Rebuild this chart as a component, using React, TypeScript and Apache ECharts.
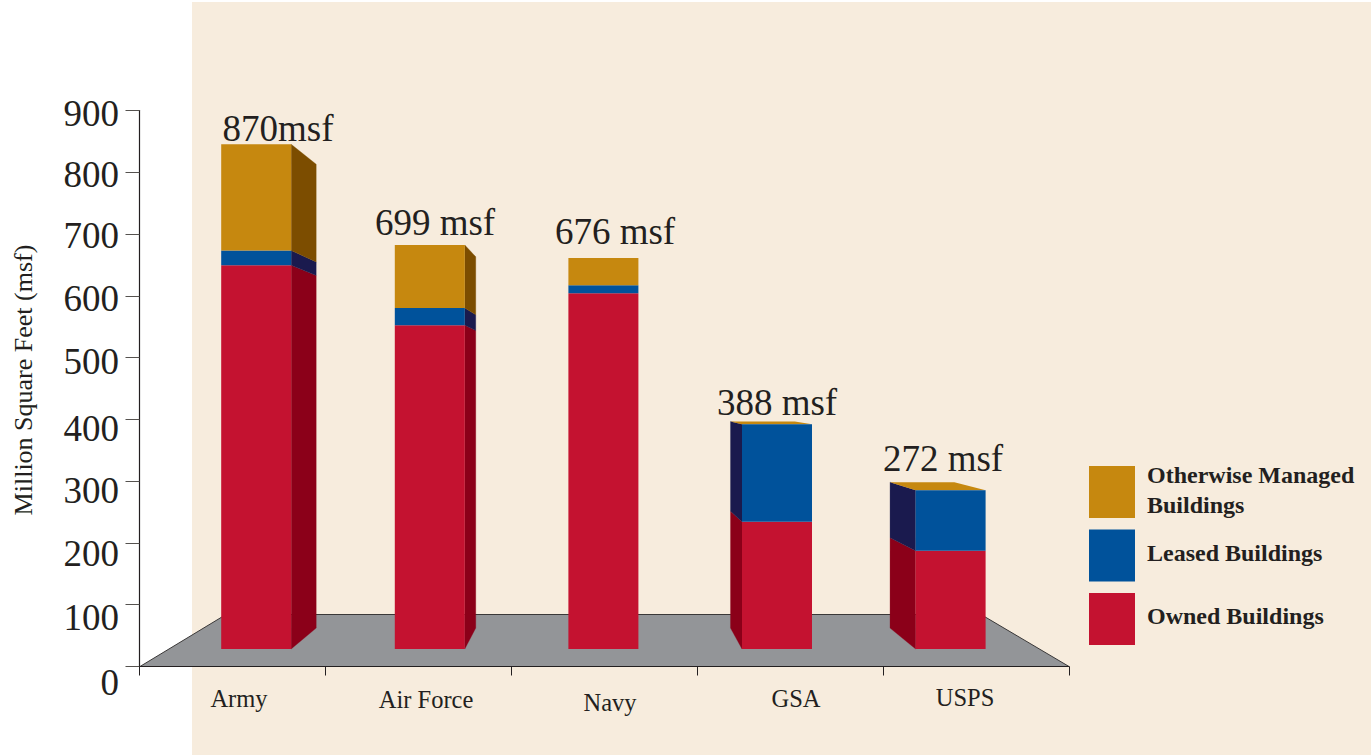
import React, { useEffect, useRef } from "react";
import * as echarts from "echarts";

const CATEGORIES = ["Army", "Air Force", "Navy", "GSA", "USPS"];
const OWNED = [621, 524, 576, 206, 159];
const LEASED = [24, 28, 13, 158, 98];
const OTHER = [172, 102, 44, 0, 0];
const TOTAL_LABELS = ["870msf", "699 msf", "676 msf", "388 msf", "272 msf"];
const Y_TICK_LABELS = ["900", "800", "700", "600", "500", "400", "300", "200", "100", "0"];
const Y_AXIS_NAME = "Million Square Feet (msf)";
const NAME_OTHER = "Otherwise Managed\nBuildings";
const NAME_LEASED = "Leased Buildings";
const NAME_OWNED = "Owned Buildings";

// layout of the free-standing texts (pixels)
const Y_LABEL_POS = [113, 174, 235, 298, 361, 428, 490, 553, 617, 682];
const X_LABEL_POS = [[239, 698], [426, 699], [610, 702], [796, 698], [965, 697]];
const TOTAL_POS = [[278, 128], [435, 222], [615, 231], [777, 402], [943, 458]];

const GOLD = "#c6880f";
const BLUE = "#00529b";
const RED = "#c41230";
const GOLD_D = "#7c4d00";
const BLUE_D = "#1a1a4e";
const RED_D = "#8b0019";
const INK = "#231f20";
const SERIF = "'Liberation Serif', serif";
// perspective of the bars' hidden faces
const VP_X = 600;
const VP_Y = 391;
const DEPTH = 0.919;
const HALF_BAR = 35;

const back = (p: number[]) => [
  VP_X + (p[0] - VP_X) * DEPTH,
  VP_Y + (p[1] - VP_Y) * DEPTH,
];

function renderSides(params: any, api: any) {
  const i = api.value(0);
  const cx = api.coord([i, 0])[0];
  const y = (v: number) => api.coord([i, v])[1];
  const l = cx - HALF_BAR;
  const r = cx + HALF_BAR;
  const segs = [
    [0, OWNED[i], RED_D],
    [OWNED[i], OWNED[i] + LEASED[i], BLUE_D],
    [OWNED[i] + LEASED[i], OWNED[i] + LEASED[i] + OTHER[i], GOLD_D],
  ] as [number, number, string][];
  const children: any[] = [];
  const edge = r < VP_X ? r : l > VP_X ? l : null;
  if (edge !== null) {
    segs.forEach(([a, b, c]) => {
      if (b <= a) return;
      const f0 = [edge, y(a)];
      const f1 = [edge, y(b)];
      children.push({
        type: "polygon",
        shape: { points: [f0, f1, back(f1), back(f0)] },
        style: { fill: c, stroke: c, lineWidth: 0.3 },
      });
    });
  }
  const top = y(OWNED[i] + LEASED[i] + OTHER[i]);
  if (top > VP_Y) {
    children.push({
      type: "polygon",
      shape: { points: [[l, top], [r, top], back([r, top]), back([l, top])] },
      style: { fill: GOLD },
    });
  }
  return { type: "group", children };
}

const text = (t: string, x: number, y: number, size: number, extra: any = {}) => ({
  type: "text",
  x,
  y,
  z: 10,
  style: {
    text: t,
    fill: INK,
    font: `${size}px ${SERIF}`,
    fontFamily: "Liberation Serif",
    fontSize: size,
    align: extra.align || "center",
    verticalAlign: "middle",
  },
  ...(extra.rotation !== undefined ? { rotation: extra.rotation } : {}),
});

const legendToken = (lineHeight: number) => ({
  fontFamily: SERIF,
  fontWeight: "bold",
  fontSize: 24,
  lineHeight,
  color: INK,
});

export default function App() {
  const ref = useRef<HTMLDivElement>(null);
  useEffect(() => {
    const chart = echarts.init(ref.current!, undefined, { renderer: "svg" });
    const barSeries = (name: string, data: number[], color: string) => ({
      name,
      type: "bar",
      stack: "total",
      xAxisIndex: 1,
      yAxisIndex: 1,
      barWidth: 70,
      data,
      z: 3,
      itemStyle: { color },
      emphasis: { disabled: true },
    });
    chart.setOption({
      animation: false,
      backgroundColor: "#ffffff",
      legend: {
        orient: "vertical",
        left: 1089,
        top: 462.5,
        padding: 0,
        itemWidth: 46,
        itemHeight: 52,
        itemGap: 11.5,
        selectedMode: false,
        icon: "rect",
        data: [NAME_OTHER, NAME_LEASED, NAME_OWNED],
        formatter: (name: string) => {
          const lines = name.split("\n");
          const token = lines.length > 1 ? "a" : "b";
          return lines.map((line) => `{${token}|${line}}`).join("\n");
        },
        textStyle: {
          fontFamily: SERIF,
          fontWeight: "bold",
          fontSize: 24,
          height: 65,
          color: INK,
          padding: [0, 0, 0, 7],
          rich: { a: legendToken(30), b: legendToken(59) },
        },
      },
      grid: [
        { left: 139.5, top: 110.5, width: 929.5, height: 556 },
        { left: 169.4, top: 93, width: 868, height: 556 },
      ],
      xAxis: [
        {
          gridIndex: 0,
          type: "category",
          data: CATEGORIES,
          z: 4,
          axisLine: { lineStyle: { color: INK, width: 1.2 } },
          axisTick: { show: true, length: 9, alignWithLabel: false, lineStyle: { color: INK } },
          axisLabel: { show: false },
        },
        {
          gridIndex: 1,
          type: "category",
          data: CATEGORIES,
          show: false,
        },
      ],
      yAxis: [
        {
          gridIndex: 0,
          type: "value",
          min: 0,
          max: 900,
          interval: 100,
          z: 4,
          splitLine: { show: false },
          axisLine: { show: true, lineStyle: { color: INK, width: 1.2 } },
          axisTick: { show: true, length: 14, lineStyle: { color: "#55524f" } },
          axisLabel: { show: false },
        },
        {
          gridIndex: 1,
          type: "value",
          min: 0,
          max: 900,
          interval: 100,
          show: false,
          splitLine: { show: false },
        },
      ],
      graphic: [
        {
          type: "rect",
          z: -5,
          shape: { x: 192, y: 2, width: 1179, height: 753 },
          style: { fill: "#f7ecdd" },
        },
        {
          type: "polygon",
          z: -4,
          shape: { points: [[140, 666.5], [226, 614.5], [981, 614.5], [1069, 666.5]] },
          style: { fill: "#939598", stroke: "#3a3838", lineWidth: 1 },
        },
        ...Y_TICK_LABELS.map((t, i) => text(t, 119, Y_LABEL_POS[i], 37, { align: "right" })),
        ...CATEGORIES.map((c, i) => text(c, X_LABEL_POS[i][0], X_LABEL_POS[i][1], 24.5)),
        ...TOTAL_LABELS.map((c, i) => text(c, TOTAL_POS[i][0], TOTAL_POS[i][1], 37)),
        text(Y_AXIS_NAME, 23, 380, 26, { rotation: Math.PI / 2 }),
      ],
      series: [
        {
          type: "custom",
          xAxisIndex: 1,
          yAxisIndex: 1,
          z: 2,
          silent: true,
          clip: false,
          renderItem: renderSides,
          encode: { x: 0, y: 1 },
          data: CATEGORIES.map((_, i) => [i, OWNED[i] + LEASED[i] + OTHER[i]]),
        },
        barSeries(NAME_OWNED, OWNED, RED),
        barSeries(NAME_LEASED, LEASED, BLUE),
        barSeries(NAME_OTHER, OTHER, GOLD),
      ],
    });
    return () => chart.dispose();
  }, []);
  return (
    <div
      ref={ref}
      style={{ position: "absolute", left: 0, top: 0, width: 1371, height: 755 }}
    />
  );
}
